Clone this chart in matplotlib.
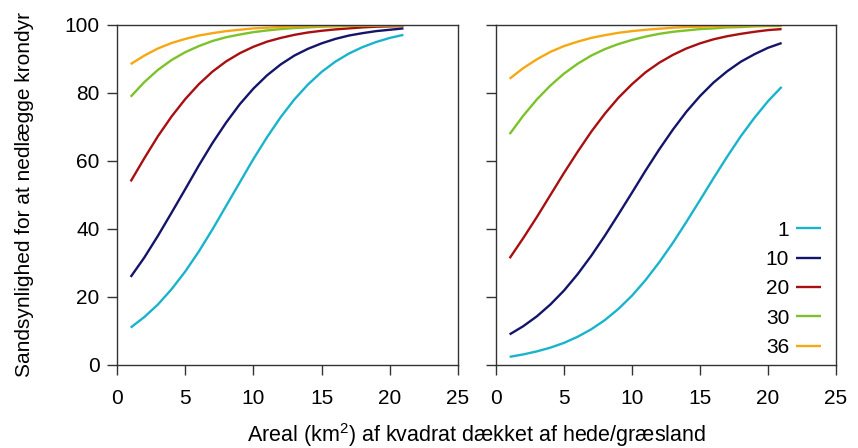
import matplotlib.pyplot as plt
import numpy as np

plt.rcParams["font.family"] = ["Liberation Sans", "DejaVu Sans"]
plt.rcParams["mathtext.fontset"] = "custom"
plt.rcParams["mathtext.rm"] = "Liberation Sans"

# areal (km2) af kvadrat
areal = list(range(1, 22))
densities = ["1", "10", "20", "30", "36"]
colors = ["#1ab3cc", "#15146b", "#a80f10", "#7cc22a", "#f7a712"]

# venstre panel
left_1 = [11.0, 14.1, 17.8, 22.3, 27.5, 33.4, 39.9, 46.8, 53.7, 60.6, 67.0,
          72.9, 78.1, 82.5, 86.2, 89.2, 91.6, 93.5, 95.0, 96.2, 97.1]
left_10 = [25.9, 31.6, 38.0, 44.8, 51.7, 58.7, 65.3, 71.3, 76.7, 81.3, 85.2,
           88.4, 91.0, 93.0, 94.6, 95.9, 96.9, 97.6, 98.2, 98.6, 99.0]
left_20 = [54.0, 60.8, 67.3, 73.1, 78.2, 82.6, 86.3, 89.3, 91.7, 93.6, 95.1,
           96.2, 97.1, 97.8, 98.3, 98.7, 99.0, 99.3, 99.5, 99.6, 99.7]
left_30 = [78.9, 83.2, 86.8, 89.7, 92.0, 93.8, 95.3, 96.4, 97.2, 97.9, 98.4,
           98.8, 99.1, 99.3, 99.5, 99.6, 99.7, 99.8, 99.8, 99.9, 99.9]
left_36 = [88.5, 91.0, 93.1, 94.7, 95.9, 96.9, 97.6, 98.2, 98.6, 99.0, 99.2,
           99.4, 99.6, 99.7, 99.7, 99.8, 99.9, 99.9, 99.9, 99.9, 99.9]

# hoejre panel
right_1 = [2.4, 3.1, 4.0, 5.1, 6.5, 8.3, 10.5, 13.2, 16.5, 20.4, 25.0,
           30.2, 35.9, 42.1, 48.5, 55.0, 61.3, 67.3, 72.7, 77.6, 81.8]
right_10 = [9.0, 11.4, 14.3, 17.8, 21.9, 26.7, 32.1, 38.0, 44.3, 50.7, 57.2,
            63.4, 69.2, 74.5, 79.1, 83.1, 86.4, 89.2, 91.4, 93.3, 94.7]
right_20 = [31.4, 37.3, 43.5, 50.0, 56.5, 62.7, 68.6, 73.9, 78.6, 82.6, 86.1,
            88.9, 91.2, 93.1, 94.6, 95.8, 96.7, 97.4, 98.0, 98.5, 98.8]
right_30 = [67.9, 73.3, 78.1, 82.2, 85.7, 88.6, 91.0, 92.9, 94.4, 95.6, 96.6,
            97.4, 98.0, 98.4, 98.8, 99.0, 99.3, 99.4, 99.6, 99.7, 99.7]
right_36 = [84.2, 87.3, 89.9, 92.1, 93.8, 95.1, 96.2, 97.0, 97.7, 98.2, 98.6,
            98.9, 99.2, 99.4, 99.5, 99.6, 99.7, 99.8, 99.8, 99.9, 99.9]

left_series = [left_1, left_10, left_20, left_30, left_36]
right_series = [right_1, right_10, right_20, right_30, right_36]

fig = plt.figure(figsize=(8.58, 4.48), dpi=100)
ax1 = fig.add_axes([0.1364, 0.1853, 0.3974, 0.7589])
ax2 = fig.add_axes([0.5781, 0.1853, 0.3963, 0.7589])

for ax, series in [(ax1, left_series), (ax2, right_series)]:
    for vals, lab, col in zip(series, densities, colors):
        ax.plot(areal, vals, color=col, lw=1.7, label=lab, solid_capstyle="butt")
    ax.set_xlim(0, 25)
    ax.set_ylim(0, 100)
    ax.set_xticks([0, 5, 10, 15, 20, 25])
    ax.set_yticks([0, 20, 40, 60, 80, 100])
    ax.tick_params(direction="out", length=7.5, width=1, colors="#333333",
                   labelcolor="black", labelsize=15)
    ax.tick_params(axis="x", pad=10)
    ax.tick_params(axis="y", pad=5)
    for sp in ax.spines.values():
        sp.set_color("#333333")
        sp.set_linewidth(1)

ax2.tick_params(labelleft=False)
ax1.set_ylabel("Sandsynlighed for at nedlægge krondyr", fontsize=15, labelpad=22)

fig.text(0.556, 0.03, "Areal (km$^{2}$) af kvadrat dækket af hede/græsland",
         ha="center", va="center", fontsize=15.5)

leg = ax2.legend(loc="lower right", markerfirst=False, frameon=False,
                 fontsize=15, handlelength=1.2, handletextpad=0.35,
                 labelspacing=0.5, borderaxespad=0.3, bbox_to_anchor=(1.0, -0.02))
for t in leg.get_texts():
    t.set_ha("right")
leg._legend_box.align = "right"

fig.savefig("out.png", dpi=100)
